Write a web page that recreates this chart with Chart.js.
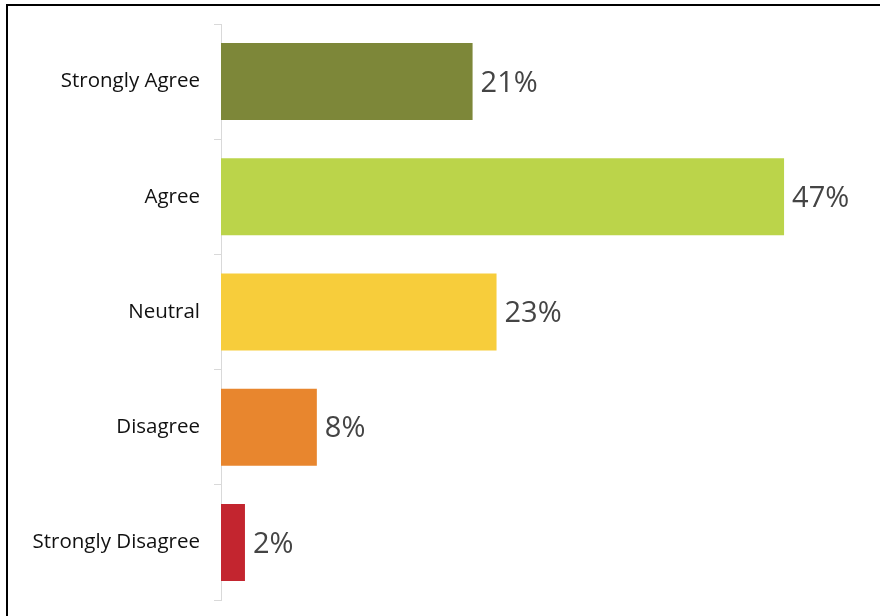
<!DOCTYPE html>
<html>
<head>
<meta charset="utf-8">
<script src="https://cdn.jsdelivr.net/npm/chart.js@4"></script>
<style>
  html, body { margin: 0; padding: 0; background: #fff; }
  #wrap { position: relative; width: 880px; height: 616px; overflow: hidden; }
  #frame {
    position: absolute; left: 6px; top: 4px; right: -10px; bottom: -10px;
    border-top: 2px solid #000; border-left: 2px solid #000;
    pointer-events: none;
  }
  canvas { position: absolute; left: 0; top: 0; }
</style>
</head>
<body>
<div id="wrap">
  <canvas id="c" width="880" height="616"></canvas>
  <div id="frame"></div>
</div>
<script>
// Survey responses, share of respondents (%)
const categories = ['Strongly Agree', 'Agree', 'Neutral', 'Disagree', 'Strongly Disagree'];
const shares = [21, 47, 23, 8, 2];
const barColors = ['#7d8739', '#bbd44a', '#f7cd3b', '#e8862e', '#c3252f'];

// Writes each bar's percentage just past its end
const valueLabels = {
  id: 'valueLabels',
  afterDatasetsDraw(chart) {
    const ctx = chart.ctx;
    const meta = chart.getDatasetMeta(0);
    ctx.save();
    ctx.font = '29px "Open Sans"';
    ctx.fillStyle = '#444444';
    ctx.textAlign = 'left';
    ctx.textBaseline = 'middle';
    meta.data.forEach((bar, i) => {
      ctx.fillText(shares[i] + '%', bar.x + 8, bar.y + 2);
    });
    ctx.restore();
  }
};

new Chart(document.getElementById('c'), {
  type: 'bar',
  data: {
    labels: categories,
    datasets: [{
      data: shares,
      backgroundColor: barColors,
      borderWidth: 0,
      categoryPercentage: 1,
      barPercentage: 0.668
    }]
  },
  options: {
    indexAxis: 'y',
    responsive: false,
    animation: false,
    events: [],
    layout: { padding: { top: 24, bottom: 16, right: 60, left: 0 } },
    plugins: {
      legend: { display: false },
      tooltip: { enabled: false }
    },
    scales: {
      x: {
        display: false,
        min: 0,
        max: 50
      },
      y: {
        offset: true,
        afterFit(scale) {
          scale.width = 221;
          scale.paddingTop = 0;
          scale.paddingBottom = 0;
        },
        grid: {
          display: true,
          offset: true,
          drawOnChartArea: false,
          drawTicks: true,
          tickLength: 7,
          color: '#d9d9d9',
          lineWidth: 1
        },
        border: { display: true, color: '#d9d9d9', width: 1 },
        ticks: {
          padding: 14,
          color: '#111111',
          font: { family: '"Open Sans"', size: 20.5 }
        }
      }
    }
  },
  plugins: [valueLabels]
});
</script>
</body>
</html>
